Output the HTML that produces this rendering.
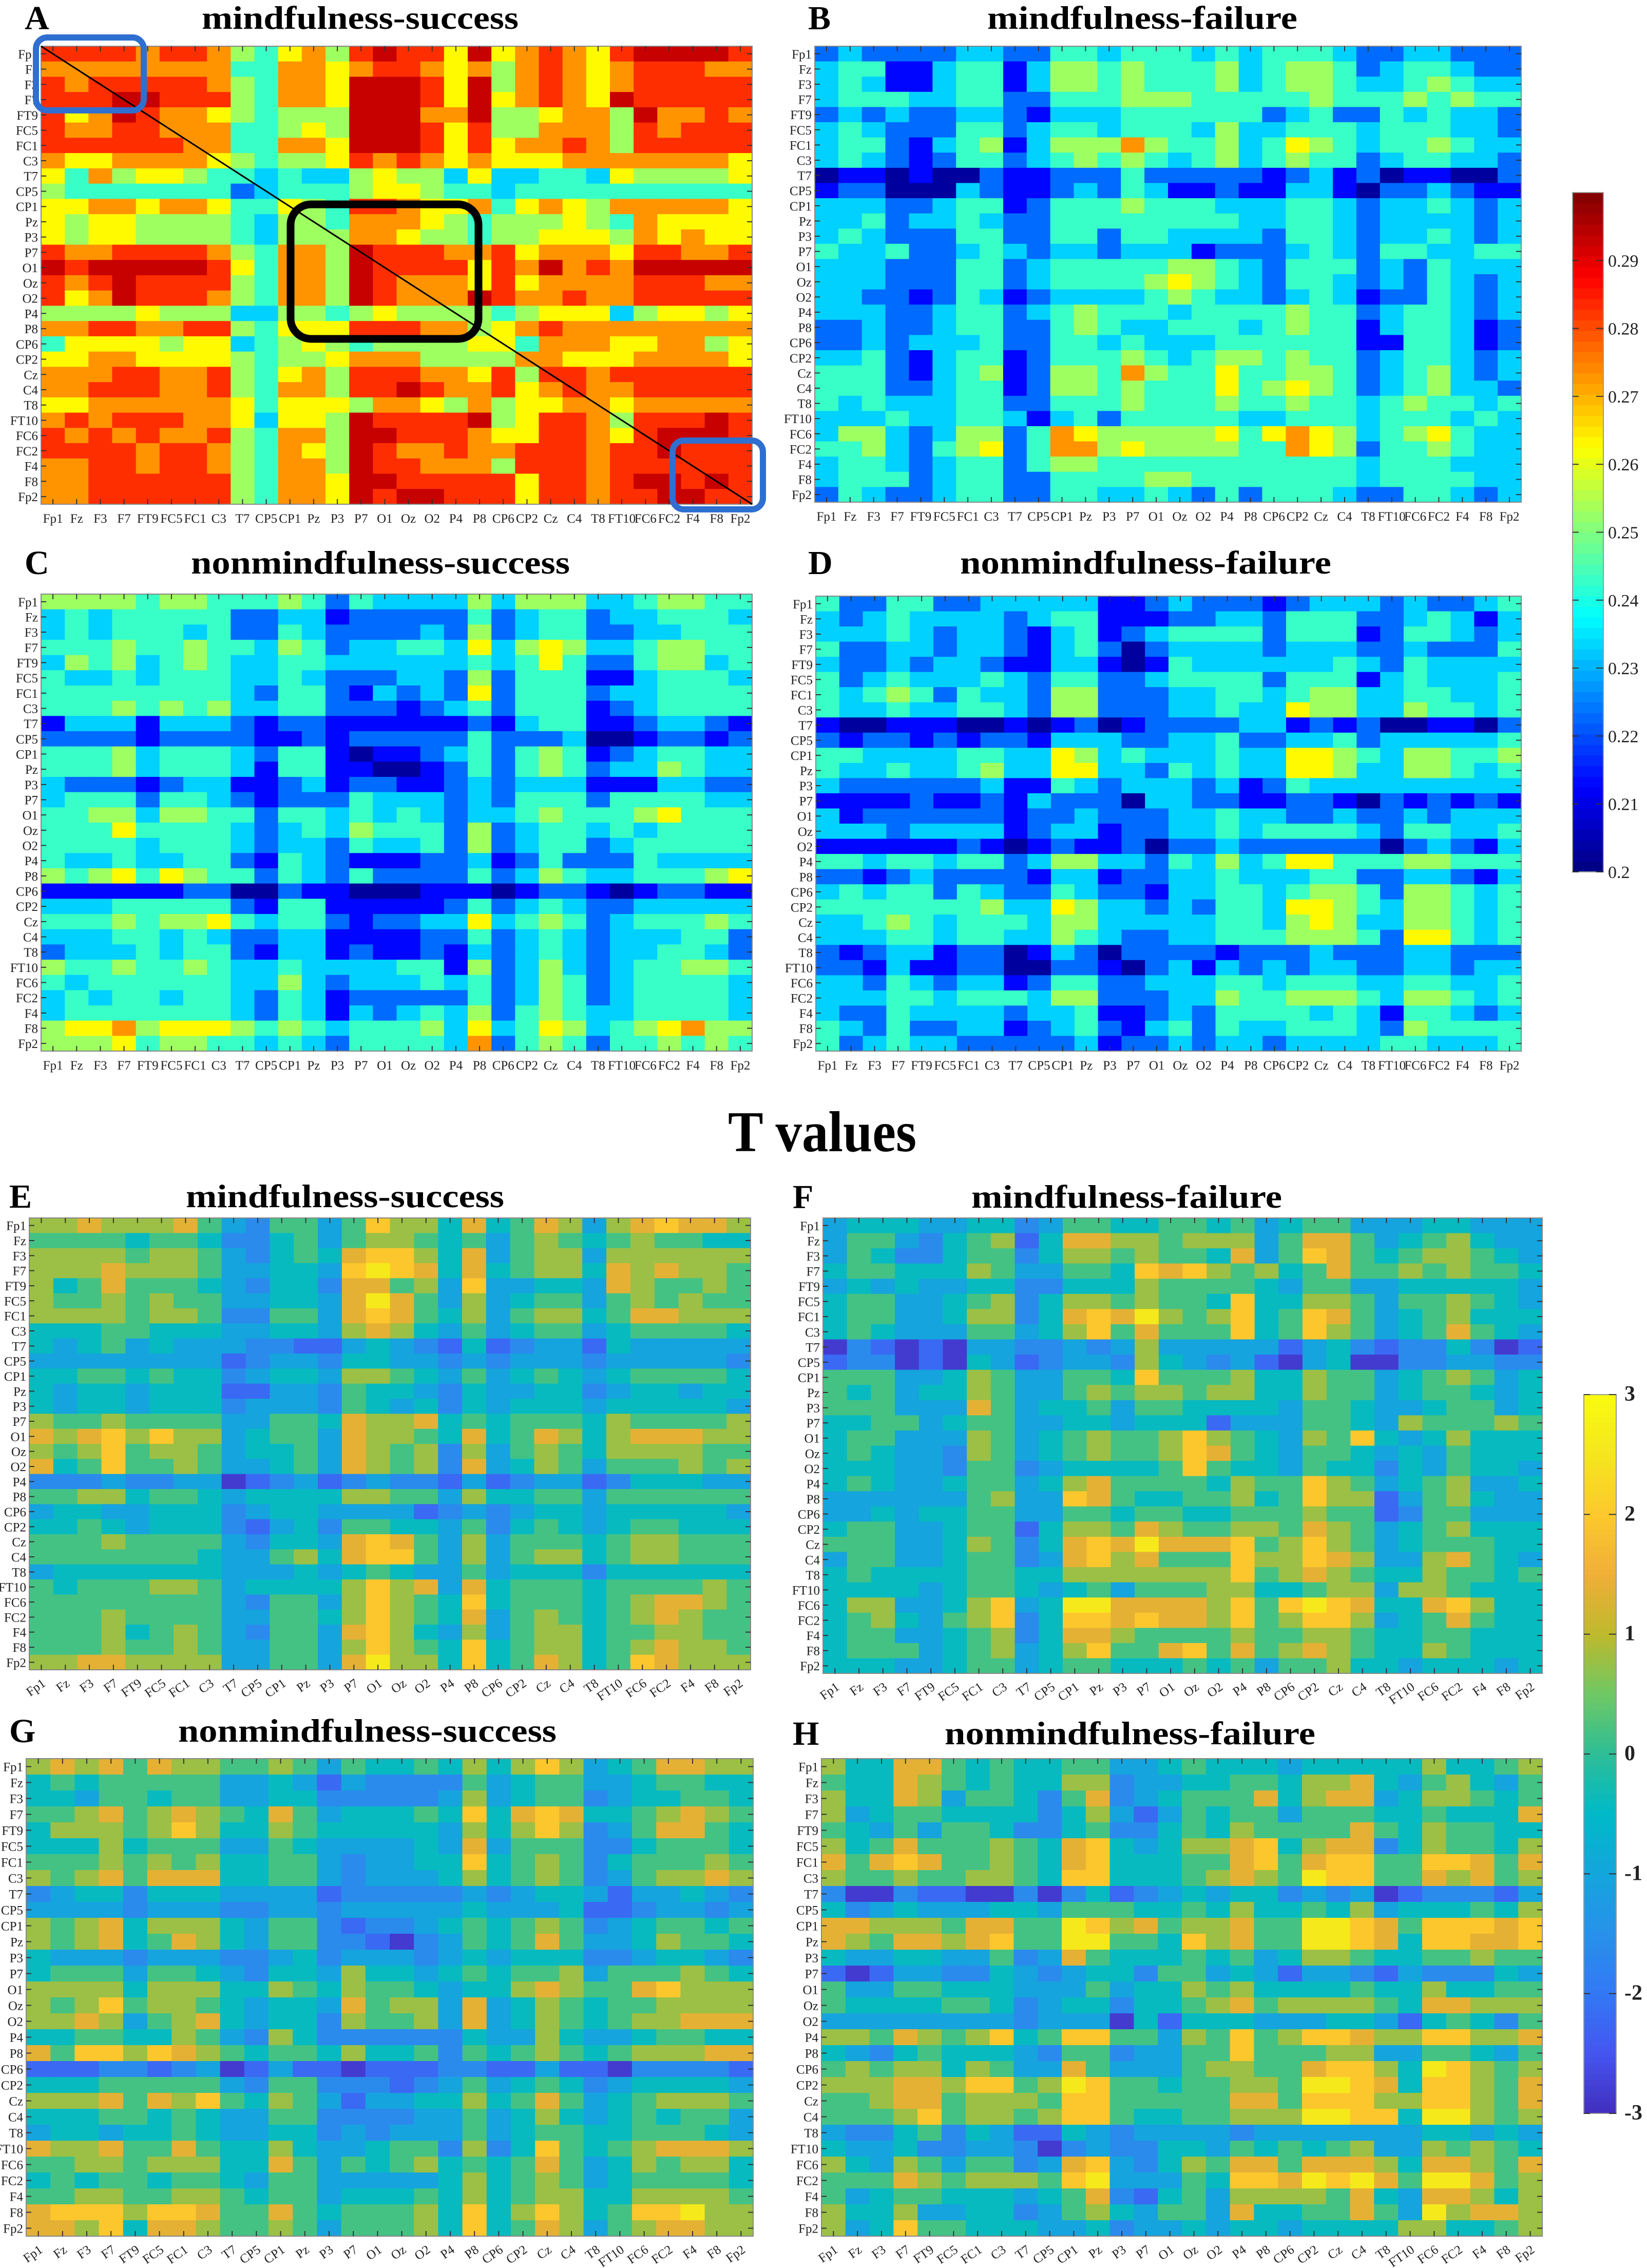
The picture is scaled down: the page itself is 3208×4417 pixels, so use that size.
<!DOCTYPE html>
<html><head><meta charset="utf-8"><title>Functional connectivity matrices and T values</title>
<style>
html,body{margin:0;padding:0;background:#fff;}
svg{display:block;}
.ttl{font-family:"Liberation Serif",serif;font-weight:bold;fill:#000;}
.tick{font-family:"Liberation Serif",serif;fill:#222;}
</style></head>
<body>
<svg id="fig" xmlns="http://www.w3.org/2000/svg" width="3208" height="4417" viewBox="0 0 3208 4417">
<rect x="0" y="0" width="3208" height="4417" fill="#fff"/>
<g id="layer"></g>
<text class="ttl" x="1418" y="2242" font-size="112" textLength="367" lengthAdjust="spacingAndGlyphs">T values</text>
</svg>
<script>
// ---- Chart data ----
const electrodes = ["Fp1","Fz","F3","F7","FT9","FC5","FC1","C3","T7","CP5","CP1","Pz","P3","P7","O1","Oz","O2","P4","P8","CP6","CP2","Cz","C4","T8","FT10","FC6","FC2","F4","F8","Fp2"];
const corrTicks = ["0.2","0.21","0.22","0.23","0.24","0.25","0.26","0.27","0.28","0.29"];
const corrTickValues = [0.2,0.21,0.22,0.23,0.24,0.25,0.26,0.27,0.28,0.29];
const tTicks = ["-3","-2","-1","0","1","2","3"];
const tTickValues = [-3,-2,-1,0,1,2,3];
// each digit d encodes a level: corr = 0.20 + (d+0.3)*0.01 ; T = -3 + (d+0.3)*0.6
const matA = [
"88887 88754 67589 88696 78768 99998","77777 77744 77678 87675 78767 88877","87888 88754 77699 98695 78767 88888","88899 88854 77699 98696 78769 88888",
"86798 77654 55599 97795 56775 97787","87788 77744 56599 98685 57775 87888","88888 87744 77699 98686 77875 88888","76677 77654 55687 87676 66777 77776",
"64756 65443 43356 55363 34436 55556","54444 44423 44456 65443 44444 44444","66776 77644 65488 76674 67657 77776","65665 55543 55477 76545 55654 76666",
"65665 55543 55577 65545 56665 76766","87788 88754 77598 88778 67776 88778","98999 99864 77598 88868 79787 99999","87898 88854 77598 77768 67777 88877",
"86798 88754 77598 77798 77877 88888","55556 55533 55456 55554 56663 56656","77887 78854 66688 87756 78777 77777","46666 56634 56545 55566 47776 67756",
"66776 66654 55677 75555 77666 77776","77788 77854 67588 87768 58878 88888","77888 77854 77588 98778 67877 88888","66777 77764 66657 76575 66776 77777",
"78788 87763 66598 88895 68875 88898","87878 77854 77599 88876 68876 89998","88887 88754 76598 77877 88878 89888","77887 88754 77598 87775 88878 88888",
"77888 88854 77699 88888 68878 99898","77888 88854 77698 99888 68878 89988"];
const matB = [
"23222 23322 44344 43434 44322 33222","34411 34413 55454 44534 55423 44322","34311 34413 55454 44534 55433 45433","34443 34422 44455 54444 45444 54544",
"23232 23321 33344 44442 34224 34332","34322 24423 44344 43533 44434 44332","34421 34513 55575 44534 65434 45433","34321 24423 45454 34534 54423 44332",
"01101 00211 22242 22221 23120 11002","12200 03211 23243 11211 33102 23211","33322 34412 44454 44333 44323 34323","33423 34322 44444 44433 44323 33323",
"34322 24422 44244 33332 44323 34323","43342 23432 33233 31222 34324 43344","33322 24423 44444 55432 44423 24333","33322 24423 44445 65432 44323 24323",
"33221 24312 33334 54332 34312 24323","33322 34423 45444 34444 54423 44323","22322 34422 45433 44434 54413 44312","22323 33422 44343 33444 44411 44312",
"33421 34412 44454 34554 54423 44323","44421 34512 55475 44644 55423 45323","44422 34412 55454 44645 65423 45332","43433 34422 44454 44544 54434 54434",
"33343 34431 34244 44433 44434 44343","35532 35524 76555 55646 76534 56433","44532 45624 77565 55544 76524 45433","34432 34424 55444 44444 44434 44333",
"34442 34422 44445 54444 44434 44433","24322 34422 44334 32424 44322 44323"];
const matC = [
"55554 55444 54243 33353 55533 45544","34344 44422 33122 22242 34423 34443","34344 43422 43222 23252 34422 33444","44454 45443 54233 44363 56533 45544",
"35453 45433 44333 33343 46422 45534","43343 44433 43222 33252 44411 34443","44444 44432 44213 23262 44423 34444","44454 54533 44222 12342 44412 34444",
"13331 33321 22111 11121 34411 23321","22221 22221 12122 22242 22300 12212","44453 44432 44101 12342 45412 34433","44453 44431 44110 01242 45423 35433",
"32221 23311 23122 11232 33311 13322","34442 44321 22243 33232 44424 44433","44553 55442 44343 43233 45444 56444","44464 44432 34354 44252 34434 34444",
"44443 44432 33243 34252 34423 44444","43343 34421 43211 12231 24222 43333","54564 65442 43242 22242 35433 44456","11111 12200 21100 01110 12210 12211",
"33344 44421 44111 11242 34322 33333","44454 55643 44212 23363 45423 44454","33344 34322 33111 12242 34323 33442","23334 34421 33121 12132 34323 34432",
"54454 45433 43333 44152 35323 44554","43444 44433 53233 34342 35423 44443","34344 34432 43122 22242 35423 44443","34444 44432 43132 34352 45433 44443",
"56675 66654 54344 45363 46534 56755","55564 55443 43244 44372 45424 45454"];
const matD = [
"42244 22333 33112 32221 23332 32234","32343 33323 44111 22332 44422 34313","33343 23321 34123 44442 44412 44323","42233 23321 34202 33332 33322 32224",
"32232 33211 33101 43333 33432 43333","42343 33432 44223 44442 44413 43334","43454 24332 55222 33443 45533 44334","43343 34432 55222 33433 65533 54434",
"10011 10010 12012 22233 12120 01102","21221 21221 33322 33422 33423 33334","44333 34433 65343 33433 66543 55445","43343 34533 66332 43433 66533 55434",
"32222 22311 43233 32312 43333 33333","11112 11213 22203 32211 22102 12121","31222 22212 23222 33433 22322 32333","33323 33312 33122 33434 44432 44334",
"11111 12101 21120 22322 22220 23213","44344 34423 55332 43534 66444 55444","22123 22221 33122 33433 34422 33213","34344 24322 43221 33443 45542 55434",
"44444 44533 65332 32443 66543 55434","33454 34443 55333 33443 56533 55434","33344 34433 54322 33444 55542 66434","21233 12201 32022 22122 23222 33222",
"22131 12200 22102 31323 23322 33233","33243 23312 44223 33443 44433 44334","33344 34443 55222 33544 55543 55434","32243 33323 34112 32444 43431 44323",
"43242 23312 34213 42433 44432 54444","42343 32222 23122 32332 33334 43334"];
const matE = [
"66766 67532 55358 66474 57636 78776","55554 55422 45356 65453 56545 65544","66665 66532 45478 86473 56636 66666","66676 66533 44389 87474 56647 67665",
"64575 55432 44277 56383 34437 65565","65565 65533 44379 75363 45535 65655","66665 66522 55378 75463 56645 77666","44455 44433 44367 64353 45534 55554",
"43453 43332 21134 32141 23314 33333","33333 33312 33244 33232 33323 33332","44554 54423 44366 54353 45434 55554","43443 44411 33254 43243 34423 44344",
"43443 44423 33254 34243 44434 44443","65565 55533 55476 67454 55546 55556","76786 86634 55376 65474 57646 77766","65685 66534 45376 56263 56546 66655",
"74585 56533 45376 56273 46535 55656","22232 23301 23123 22131 23312 44433","55664 55434 44466 55364 45535 55555","34433 44423 44333 31232 34434 44443",
"44543 44421 34255 44352 45434 55444","55565 55532 44378 75363 55545 66555","55555 55433 56478 85363 56645 66555","34444 44433 34345 43353 44424 44444",
"54555 66534 44468 67374 55545 55565","55555 55532 55368 65484 55545 67765","55565 55533 55468 65473 56545 67655","55564 56532 55378 64363 56645 56655",
"55565 56533 55368 65484 56645 67665","66776 66633 55379 66484 57645 87666"];
const matF = [
"34443 34423 55445 54534 55333 44333","35532 45614 77665 66635 77534 56433","35422 45524 66565 54735 87545 66543","45544 46533 55487 86564 57556 56554",
"34343 34422 44465 55543 55334 44443","45533 45624 66565 54844 66535 56543","45533 46624 78796 56845 87534 56444","45433 35534 68575 55845 86534 57543",
"02101 03322 32363 33331 34212 24201","12201 04312 33264 32310 34002 23322","55533 46533 55485 55644 65534 56534","54534 46533 56566 56644 65534 55434",
"55533 37534 45355 44443 55433 45534","44553 45533 44344 41333 55436 55565","45533 36534 56556 86543 65843 46444","45433 26534 56556 87543 55434 35444",
"44433 25523 44445 85443 54424 35443","45433 45534 67555 54655 86534 56334","33333 35633 87544 55645 86613 56433","33434 45533 55455 44555 65512 55333",
"45533 45514 66576 55665 76534 56444","55533 46524 78797 77856 86534 55544","35533 45523 78675 55866 87633 67543","45444 45544 66666 66856 76544 65545",
"44443 45543 45355 56644 56636 65444","46633 46834 99777 76858 98744 78644","45643 56824 88787 76856 88634 57544","45533 45624 77655 55655 66544 55444",
"45553 45634 68557 85756 76544 65444","44433 45534 55444 54535 56443 44434"];
const matG = [
"67675 76655 65354 45464 68634 57766","45455 55533 43132 22253 45533 45544","44355 45533 44222 22363 45523 44554","55675 67654 75344 45484 78744 56765",
"46665 68644 65444 44364 68623 57754","44464 55533 54333 34373 55522 45554","55565 65644 55323 34484 56524 55565","65675 77744 55323 33464 56523 56676",
"23442 44433 33122 22232 34431 33432","33332 33322 33233 33343 33411 23323","65674 66643 55212 23454 56523 45545","65674 57643 55221 02354 57533 46554",
"43332 33322 34233 32343 44422 34432","45553 55432 44364 43454 55635 55654","66664 66644 65465 54344 67655 78666","65685 66543 44375 66373 46545 56666",
"66763 56743 44265 56373 46545 66777","44554 46532 64222 22243 36433 45544","75886 87654 55464 45254 56545 66677","11122 12301 31101 11221 13110 22221",
"44455 55532 55222 12353 45423 44443","66675 76854 65313 34464 57534 56665","44455 45433 55222 23353 46434 54553","34434 45433 44232 33353 45544 55543",
"76675 57544 64334 55262 48545 67776","55665 66644 75354 56454 57534 65664","45455 45543 55333 33464 56534 55554","55665 56654 55344 45464 56644 66665",
"78886 88755 75455 56484 68645 88966","77684 77655 65355 56484 57635 67766"];
const matH = [
"64477 54544 55334 54443 44444 64456","54476 54544 66233 44554 66743 56435","64476 35542 57234 55574 67734 66545","63455 44442 46313 54553 55544 54447",
"54353 55422 45224 54655 55754 65544","64575 55654 78434 66784 67724 65546","75787 55654 78444 55785 78855 88757","65565 56654 88444 56765 98855 76756",
"20021 10020 24123 43442 32301 22213","42343 33443 55544 54644 54634 44546","77666 57755 98675 66755 99875 88878","76577 67855 99554 86755 99874 88778",
"43344 33523 75444 54534 66544 55655","10133 22432 34425 53431 33213 22243","53355 44433 35344 65644 44544 64455","54444 55423 44244 56756 66654 77666",
"33333 33323 33041 44433 34431 45425","66576 56845 88553 65856 88766 88667","43245 44432 55233 55855 56633 55435","56566 46533 75333 56655 78864 98656",
"66677 68856 98554 55665 99874 88657","55677 56665 88555 55775 88866 88657","55568 56656 88544 55666 99884 99656","32245 24311 43233 33233 33333 44343",
"43342 23320 23224 43545 45633 65654","64365 35523 78324 65775 77764 77657","55576 56665 89333 54887 98975 99756","53455 44434 57214 53666 65743 77646",
"64463 34423 56435 53744 55753 96776","63485 54443 34233 43443 44446 64456"];

// ---- Layout (pixel geometry, not data) ----
const panels = [
 {id:"A",mat:matA,kind:"corr",x:80,y:90,w:1385,h:892,title:"mindfulness-success",tx:393,tw:617,tb:56,lx:48,rot:false},
 {id:"B",mat:matB,kind:"corr",x:1587,y:90,w:1376,h:888,title:"mindfulness-failure",tx:1923,tw:604,tb:56,lx:1574,rot:false},
 {id:"C",mat:matC,kind:"corr",x:80,y:1157,w:1385,h:890,title:"nonmindfulness-success",tx:372,tw:738,tb:1117,lx:48,rot:false},
 {id:"D",mat:matD,kind:"corr",x:1589,y:1161,w:1374,h:886,title:"nonmindfulness-failure",tx:1870,tw:723,tb:1117,lx:1574,rot:false},
 {id:"E",mat:matE,kind:"t",x:57,y:2372,w:1405,h:880,title:"mindfulness-success",tx:362,tw:620,tb:2351,lx:18,rot:true},
 {id:"F",mat:matF,kind:"t",x:1603,y:2372,w:1401,h:887,title:"mindfulness-failure",tx:1892,tw:605,tb:2352,lx:1544,rot:true},
 {id:"G",mat:matG,kind:"t",x:51,y:3425,w:1416,h:930,title:"nonmindfulness-success",tx:347,tw:737,tb:3392,lx:18,rot:true},
 {id:"H",mat:matH,kind:"t",x:1600,y:3425,w:1404,h:930,title:"nonmindfulness-failure",tx:1840,tw:722,tb:3397,lx:1544,rot:true}
];
const NS="http://www.w3.org/2000/svg";
function mk(tag,attrs,parent){const e=document.createElementNS(NS,tag);for(const k in attrs)e.setAttribute(k,attrs[k]);if(parent)parent.appendChild(e);return e;}
function clamp(v){return Math.max(0,Math.min(1,v));}
function jet(t){const r=clamp(1.5-Math.abs(4*t-3)),g=clamp(1.5-Math.abs(4*t-2)),b=clamp(1.5-Math.abs(4*t-1));return `rgb(${Math.round(r*255)},${Math.round(g*255)},${Math.round(b*255)})`;}
const parAnch=[[66,45,190],[69,85,240],[50,120,245],[40,145,235],[20,165,220],[0,185,200],[45,190,150],[110,200,100],[190,185,45],[240,175,55],[252,200,45],[245,230,30],[249,251,14]];
function parula(t){t=clamp(t)*(parAnch.length-1);const i=Math.min(parAnch.length-2,Math.floor(t)),f=t-i;const a=parAnch[i],b=parAnch[i+1];return `rgb(${Math.round(a[0]+(b[0]-a[0])*f)},${Math.round(a[1]+(b[1]-a[1])*f)},${Math.round(a[2]+(b[2]-a[2])*f)})`;}
function decode(kind,d){return kind==="corr"?0.2+(d+0.3)*0.01:-3+(d+0.3)*0.6;}
function colorOf(kind,v){return kind==="corr"?jet((v-0.2)/0.1):parula((v+3)/6);}

const layer=document.getElementById('layer');
panels.forEach(p=>{
  const g=mk('g',{},layer);
  
  
  const n=electrodes.length;
  const xs=i=>p.x+i*p.w/n, ys=j=>p.y+j*p.h/n;
  const cw=p.w/n, ch=p.h/n;
  p.mat.forEach((rowStr,j)=>{
    const digits=rowStr.replace(/\s/g,'').split('').map(Number);
    for(let i=0;i<n;i++){
      const d=digits[i]!==undefined?digits[i]:digits[digits.length-1];
      const v=decode(p.kind,d);
      const r=mk('rect',{x:xs(i).toFixed(2),y:ys(j).toFixed(2),width:(cw+0.6).toFixed(2),height:(ch+0.6).toFixed(2),fill:colorOf(p.kind,v)},g);
      
      
    }
  });
  const fr=mk('rect',{x:p.x,y:p.y,width:p.w,height:p.h,fill:'none',stroke:'#888','stroke-width':2},g);
  
  
  let tk='';
  for(let i=0;i<n;i++){
    const cx=xs(i)+cw/2, cy=ys(i)+ch/2;
    tk+=`M${cx} ${p.y}v10M${cx} ${p.y+p.h}v-10M${p.x} ${cy}h10M${p.x+p.w} ${cy}h-10`;
  }
  const tp=mk('path',{d:tk,stroke:'#333','stroke-width':2,fill:'none'},g);
  
  
  electrodes.forEach((lab,i)=>{
    const cy=ys(i)+ch/2;
    const yl=mk('text',{x:p.x-6,y:cy+9,'text-anchor':'end','font-size':25,class:'tick'},g);
    yl.textContent=lab;
    
    
    const cx=xs(i)+cw/2;
    let xl;
    if(p.rot){
      xl=mk('text',{x:cx+10,y:p.y+p.h+30,'text-anchor':'end','font-size':25,class:'tick',transform:`rotate(-35 ${cx+10} ${p.y+p.h+30})`},g);
    } else {
      xl=mk('text',{x:cx,y:p.y+p.h+36,'text-anchor':'middle','font-size':25,class:'tick'},g);
    }
    xl.textContent=lab;
    
    
  });
  const t=mk('text',{x:p.tx,y:p.tb,'font-size':64,class:'ttl',textLength:p.tw,lengthAdjust:'spacingAndGlyphs'},g);
  t.textContent=p.title;
  
  
  const L=mk('text',{x:p.lx,y:p.tb+1,'font-size':66,class:'ttl'},g);
  L.textContent=p.id;
  
  
});

// overlays on panel A
const pa=panels[0];
const ov=mk('g',{},layer);


const dl=mk('line',{x1:pa.x,y1:pa.y,x2:pa.x+pa.w,y2:pa.y+pa.h,stroke:'#000','stroke-width':3},ov);


const b1=mk('rect',{x:70,y:73,width:210,height:142,rx:22,fill:'none',stroke:'#2f6fd0','stroke-width':12},ov);


const b2=mk('rect',{x:1310,y:858,width:176,height:134,rx:22,fill:'none',stroke:'#2f6fd0','stroke-width':12},ov);


const b3=mk('rect',{x:566,y:398,width:366,height:262,rx:40,fill:'none',stroke:'#000','stroke-width':15},ov);



// colorbars
function colorbar(x,y,w,h,vmin,vmax,cfn,ticks,labels,bold,name,steps){
  const g=mk('g',{},layer);
  
  
  for(let k=0;k<steps;k++){
    const t=(k+0.5)/steps;
    const r=mk('rect',{x:x,y:(y+h-(k+1)*h/steps).toFixed(2),width:w,height:(h/steps+0.8).toFixed(2),fill:cfn(t)},g);
    
    
  }
  const f=mk('rect',{x:x,y:y,width:w,height:h,fill:'none',stroke:'#999','stroke-width':2},g);
  
  
  ticks.forEach((v,i)=>{
    const ty=y+h-(v-vmin)/(vmax-vmin)*h;
    const tl=mk('path',{d:`M${x} ${ty}h12M${x+w} ${ty}h-14`,stroke:'#333','stroke-width':2},g);
    
    
    const tx=mk('text',{x:x+w+(bold?16:9),y:ty+12,'font-size':bold?42:34,class:'tick','font-weight':bold?'bold':'normal'},g);
    tx.textContent=labels[i];
    
    
  });
}
colorbar(3063,375,60,1323,0.2,0.3,jet,corrTickValues,corrTicks,false,'colorbar-correlation',64);
colorbar(3085,2716,63,1400,-3,3,parula,tTickValues,tTicks,true,'colorbar-t-values',128);
</script>
</body></html>
